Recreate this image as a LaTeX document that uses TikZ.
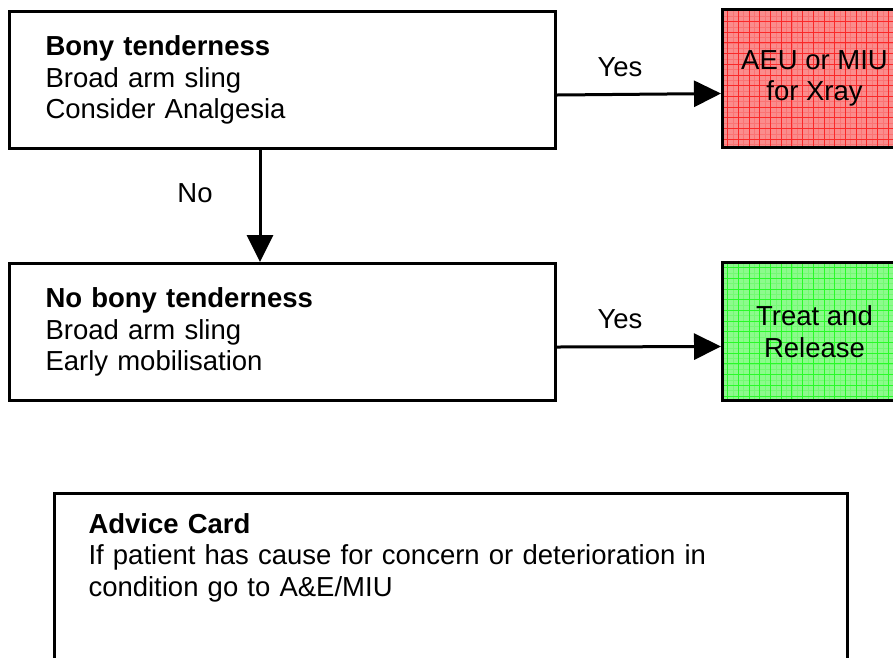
\documentclass[tikz,border=0pt]{standalone}
\usepackage{fontspec}
\setmainfont{Liberation Sans}
\usetikzlibrary{arrows.meta}
\definecolor{xrayfill}{RGB}{250,140,140}
\definecolor{xraygrid}{RGB}{250,40,40}
\definecolor{relfill}{RGB}{140,250,140}
\definecolor{relgrid}{RGB}{40,250,40}
\tikzset{
  stepbox/.style={draw,line width=3pt,fill=white,minimum width=546pt,minimum height=137pt,
    anchor=north west,align=left,text width=474pt,inner xsep=34pt},
  outbox/.style={draw,line width=3pt,minimum width=184pt,minimum height=138pt,anchor=north west,align=center},
  arr/.style={line width=3pt,-{Triangle[length=27pt,width=26pt]}},
  lbl/.style={inner sep=0pt}
}
\begin{document}
\begin{tikzpicture}[x=1pt,y=1pt,font=\fontsize{27.5}{31.5}\selectfont]
\useasboundingbox[fill=white] (0,0) rectangle (893,-657);

% left column
\node[stepbox] (bony) at (8,-10) {\textbf{Bony tenderness}\\Broad arm sling\\Consider Analgesia};
\node[stepbox] (nobony) at (8,-262) {\textbf{No bony tenderness}\\Broad arm sling\\Early mobilisation};

% outcomes, with a grid fill
\fill[xrayfill] (721,-8) rectangle (905,-146);
\begin{scope}
\clip (721,-8) rectangle (905,-146);
\draw[xraygrid!25!xrayfill,line width=0.5pt,step=5.35pt] (721,-150) grid (905,-8);
\draw[xraygrid,line width=0.8pt,step=10.7pt] (721,-150) grid (905,-8);
\end{scope}
\node[outbox] (xray) at (721,-8) {AEU or MIU\\for Xray};

\fill[relfill] (721,-261) rectangle (905,-399);
\begin{scope}
\clip (721,-261) rectangle (905,-399);
\draw[relgrid!25!relfill,line width=0.5pt,step=5.35pt] (721,-403) grid (905,-261);
\draw[relgrid,line width=0.8pt,step=10.7pt] (721,-403) grid (905,-261);
\end{scope}
\node[outbox] (release) at (721,-261) {Treat and\\Release};

% connectors
\draw[arr] ([xshift=252pt]bony.south west) -- ([xshift=252pt]nobony.north west);
\draw[arr] ([yshift=-15pt]bony.east) -- ([yshift=-15pt]xray.west);
\draw[arr] ([yshift=-15pt]nobony.east) -- ([yshift=-15pt]release.west);
\node[lbl] (no) at (195,-193) {No};
\node[lbl] (yes1) at (620,-67) {Yes};
\node[lbl] (yes2) at (620,-319) {Yes};

% advice card
\node[draw,line width=3pt,minimum width=793pt,anchor=north west,
  align=left,text width=725pt,inner xsep=29pt,inner ysep=20pt] (advice) at (53,-492)
  {\textbf{Advice Card}\\If patient has cause for concern or deterioration in\\condition go to A\&E/MIU\\[70pt]\mbox{}};
\end{tikzpicture}
\end{document}
